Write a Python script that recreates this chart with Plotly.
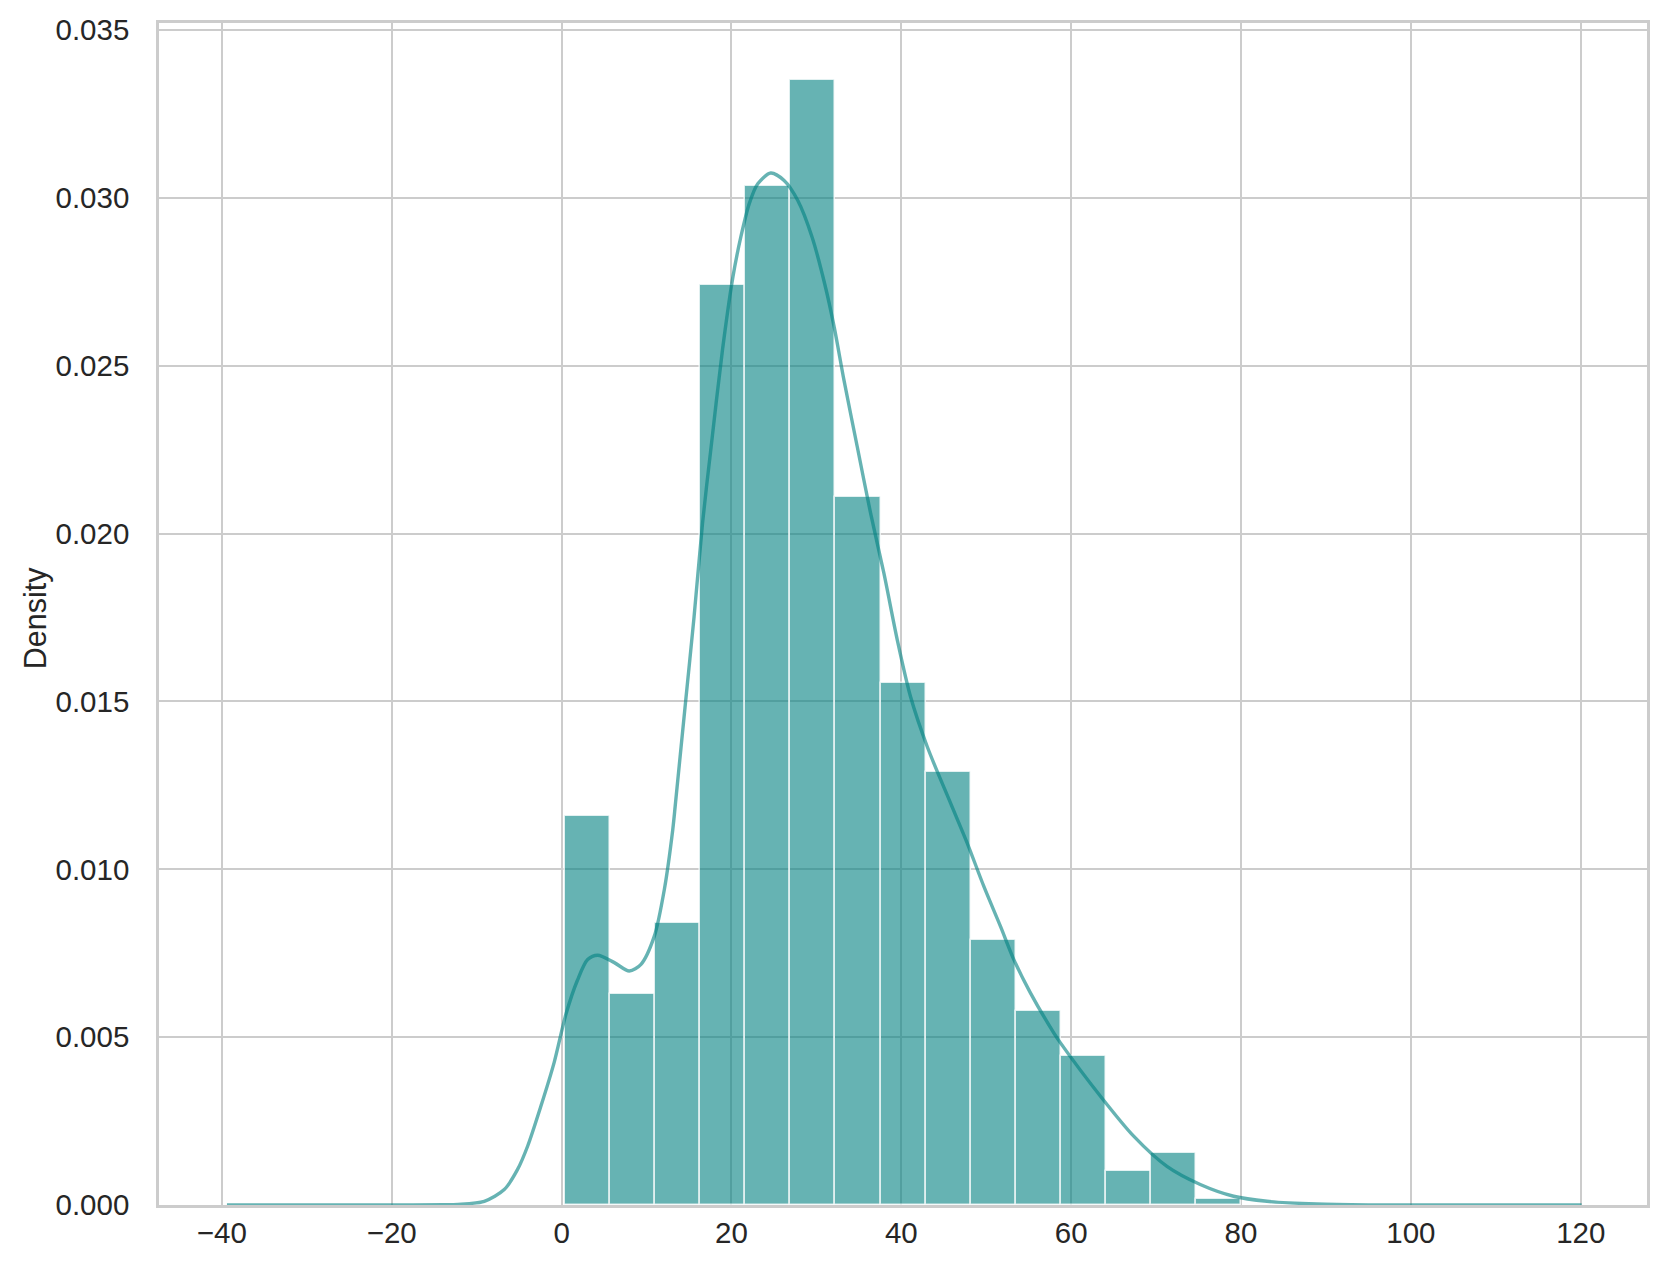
import plotly.graph_objects as go

# ---- data ----
bin_start = 0.42
bin_width = 5.305
densities = [0.01159, 0.00629, 0.00840, 0.02742, 0.03034, 0.03350, 0.02109,
             0.01556, 0.01289, 0.00789, 0.00578, 0.00443, 0.00101, 0.00155, 0.00019]

kde_x = [-39.4, -30, -20, -14, -12.2, -9.1, -6.75, -5.18, -4.0, -2.44, -0.87, 0.51,
         1.89, 3.07, 4.25, 6.21, 7.97, 9.35, 10.92, 12.1, 13.09, 13.45, 14.62, 15.6,
         16.59, 17.56, 18.94, 20.17, 21.1, 22.1, 23.1, 24.62, 26.2, 27.8, 29.5, 30.97,
         32.1, 33.25, 34.82, 36.39, 37.95, 39.53, 41.09, 43.06, 45.8, 47.76, 49.72,
         51.68, 53.25, 55.2, 57.95, 58.74, 63.45, 67.36, 71.28, 75.2, 79.13, 83.06,
         88.9, 95, 105, 120.1]
kde_y = [0, 0, 0, 0.00001, 0.00002, 0.00011, 0.00046, 0.00106, 0.00175, 0.00294,
         0.00425, 0.00568, 0.00671, 0.00731, 0.00744, 0.00722, 0.00697, 0.00717,
         0.00801, 0.00940, 0.01118, 0.01207, 0.01504, 0.01752, 0.02030, 0.02248,
         0.02546, 0.02764, 0.02883, 0.02983, 0.03042, 0.03074, 0.03052, 0.02993,
         0.02883, 0.02745, 0.02615, 0.02457, 0.02258, 0.02060, 0.01882, 0.01683,
         0.01514, 0.01365, 0.01197, 0.01078, 0.00949, 0.00830, 0.00731, 0.00632,
         0.00513, 0.00483, 0.00324, 0.00205, 0.00115, 0.00061, 0.00026, 0.00011,
         0.00003, 0.000005, 0, 0]

x_tick_vals = [-40, -20, 0, 20, 40, 60, 80, 100, 120]
x_tick_text = ["\u221240", "\u221220", "0", "20", "40", "60", "80", "100", "120"]
y_tick_vals = [0, 0.005, 0.010, 0.015, 0.020, 0.025, 0.030, 0.035]
y_tick_text = ["0.000", "0.005", "0.010", "0.015", "0.020", "0.025", "0.030", "0.035"]
y_label = "Density"

bin_centers = [bin_start + bin_width * (i + 0.5) for i in range(len(densities))]

TEAL_A = "rgba(0,128,128,0.6)"
GRID = "#cccccc"
FONT = "Liberation Sans, Arial, sans-serif"

fig = go.Figure()
fig.add_trace(go.Bar(
    x=bin_centers, y=densities, width=[bin_width] * len(densities),
    marker=dict(color=TEAL_A, line=dict(color="rgba(255,255,255,0.75)", width=1.6)),
    showlegend=False, hoverinfo="skip",
))
fig.add_trace(go.Scatter(
    x=kde_x, y=kde_y, mode="lines",
    line=dict(color=TEAL_A, width=3.4, shape="spline", smoothing=0.8),
    showlegend=False, hoverinfo="skip",
))

# page body has an 8px default margin; figure sized to fit inside the window
W, H = 1649, 1262
ml, mr, mt, mb = 151, 10, 15, 65
fig.update_layout(
    width=W, height=H,
    margin=dict(l=ml, r=mr, t=mt, b=mb, pad=0, autoexpand=False),
    paper_bgcolor="white", plot_bgcolor="white",
    bargap=0,
    font=dict(family=FONT, color="#262626", size=29),
    xaxis=dict(
        range=[-47.4, 127.8], tickvals=x_tick_vals, ticktext=x_tick_text,
        showgrid=True, gridcolor=GRID, gridwidth=2.2,
        showline=True, linecolor=GRID, linewidth=2.5, mirror=True,
        zeroline=False, ticks="outside", ticklen=0, tickcolor="rgba(0,0,0,0)",
        tickfont=dict(size=29.5, color="#262626", family=FONT),
    ),
    yaxis=dict(
        range=[0, 0.03521], tickvals=y_tick_vals, ticktext=y_tick_text,
        showgrid=True, gridcolor=GRID, gridwidth=2.2,
        showline=True, linecolor=GRID, linewidth=2.5, mirror=True,
        zeroline=False, ticks="outside", ticklen=21, tickcolor="rgba(0,0,0,0)",
        tickfont=dict(size=29.5, color="#262626", family=FONT),
    ),
    annotations=[dict(
        text=y_label, textangle=-90, showarrow=False,
        xref="paper", yref="paper",
        x=(27.5 - ml) / (W - ml - mr), y=0.496,
        xanchor="center", yanchor="middle",
        font=dict(size=30.5, color="#262626", family=FONT),
    )],
)

fig.write_html("out.html")
